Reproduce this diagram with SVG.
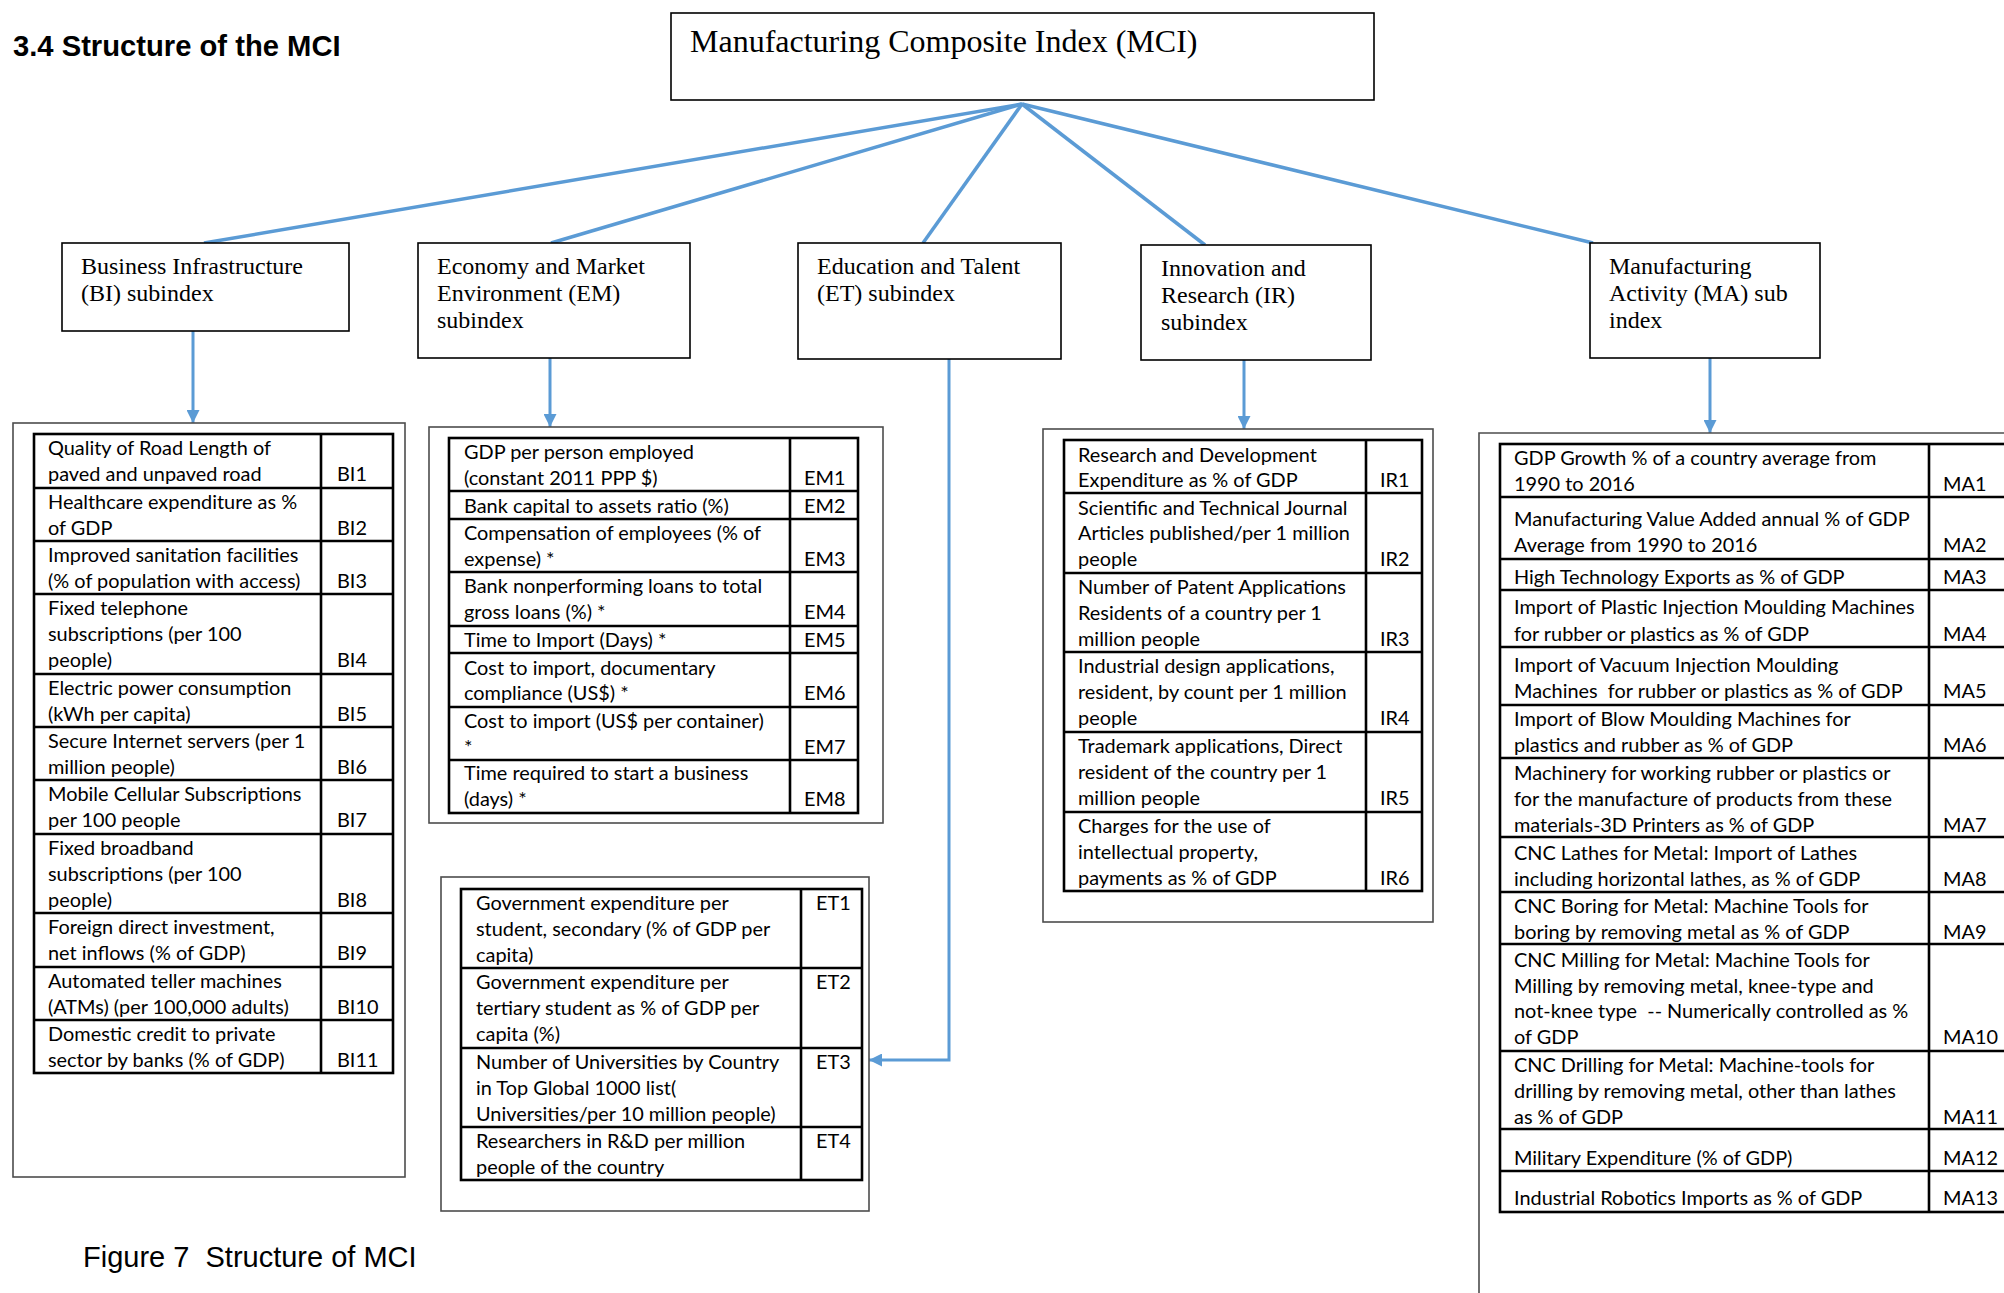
<svg xmlns="http://www.w3.org/2000/svg" width="2004" height="1293" viewBox="0 0 2004 1293">
<defs>
<style>
.bg{fill:#fff}
.hd{font-family:"Liberation Sans",Arial,sans-serif;font-size:29.2px;font-weight:bold;fill:#000}
.cap{font-family:"Liberation Sans",Arial,sans-serif;font-size:29px;fill:#000}
.mci{font-family:"Liberation Serif","Times New Roman",serif;font-size:32px;fill:#000}
.sub{font-family:"Liberation Serif","Times New Roman",serif;font-size:24px;fill:#000}
.box{fill:#fff;stroke:#000;stroke-width:1.6}
.outer{fill:none;stroke:#4d4d4d;stroke-width:1.6}
.tbl{fill:none;stroke:#000;stroke-width:2.6}
.t{font-family:Lato,"Liberation Sans",sans-serif;font-size:19.9px;fill:#000}
.con{fill:none;stroke:#5B9BD5;stroke-width:3.5}
.arr{fill:none;stroke:#5B9BD5;stroke-width:3}
</style>
<marker id="ah" viewBox="0 0 10 10" refX="10" refY="5" markerWidth="13" markerHeight="13" markerUnits="userSpaceOnUse" orient="auto"><path d="M0,0 L10,5 L0,10 z" fill="#5B9BD5"/></marker>
</defs>
<rect class="bg" x="0" y="0" width="2004" height="1293"/>
<text class="hd" x="13" y="56">3.4 Structure of the MCI</text>
<text class="cap" x="83" y="1267" xml:space="preserve">Figure 7  Structure of MCI</text>

<g id="connectors">
<path class="con" d="M1022,104 L204,243"/>
<path class="con" d="M1022,104 L551,243"/>
<path class="con" d="M1022,104 L923,243"/>
<path class="con" d="M1022,104 L1205,245"/>
<path class="con" d="M1022,104 L1593,243"/>
<path class="arr" d="M193,331 V423" marker-end="url(#ah)"/>
<path class="arr" d="M550,358 V427" marker-end="url(#ah)"/>
<path class="arr" d="M949,359 V1060 H869" marker-end="url(#ah)"/>
<path class="arr" d="M1244,360 V429" marker-end="url(#ah)"/>
<path class="arr" d="M1710,358 V433" marker-end="url(#ah)"/>
</g>

<g id="mci">
<rect class="box" x="671" y="13" width="703" height="87"/>
<text class="mci" x="690" y="52">Manufacturing Composite Index (MCI)</text>
</g>

<g id="bi-subindex">
<rect class="box" x="62" y="243" width="287" height="88"/>
<text class="sub" x="81" y="274">Business Infrastructure</text>
<text class="sub" x="81" y="301">(BI) subindex</text>
</g>
<g id="em-subindex">
<rect class="box" x="418" y="243" width="272" height="115"/>
<text class="sub" x="437" y="274">Economy and Market</text>
<text class="sub" x="437" y="301">Environment (EM)</text>
<text class="sub" x="437" y="328">subindex</text>
</g>
<g id="et-subindex">
<rect class="box" x="798" y="243" width="263" height="116"/>
<text class="sub" x="817" y="274">Education and Talent</text>
<text class="sub" x="817" y="301">(ET) subindex</text>
</g>
<g id="ir-subindex">
<rect class="box" x="1141" y="245" width="230" height="115"/>
<text class="sub" x="1161" y="276">Innovation and</text>
<text class="sub" x="1161" y="303">Research (IR)</text>
<text class="sub" x="1161" y="330">subindex</text>
</g>
<g id="ma-subindex">
<rect class="box" x="1590" y="243" width="230" height="115"/>
<text class="sub" x="1609" y="274">Manufacturing</text>
<text class="sub" x="1609" y="301">Activity (MA) sub</text>
<text class="sub" x="1609" y="328">index</text>
</g>

<g id="bi-table">
<rect class="outer" x="13" y="423" width="392" height="754"/>
<rect class="tbl" x="34" y="434" width="359" height="639"/>
<path class="tbl" d="M321,434 V1073 M34,488 H393 M34,541 H393 M34,594 H393 M34,674 H393 M34,727 H393 M34,780 H393 M34,834 H393 M34,913 H393 M34,967 H393 M34,1020 H393"/>
<text class="t" x="48" y="455">Quality of Road Length of</text>
<text class="t" x="48" y="481">paved and unpaved road</text>
<text class="t" x="337" y="481">BI1</text>
<text class="t" x="48" y="509">Healthcare expenditure as %</text>
<text class="t" x="48" y="535">of GDP</text>
<text class="t" x="337" y="535">BI2</text>
<text class="t" x="48" y="562">Improved sanitation facilities</text>
<text class="t" x="48" y="588">(% of population with access)</text>
<text class="t" x="337" y="588">BI3</text>
<text class="t" x="48" y="615">Fixed telephone</text>
<text class="t" x="48" y="641">subscriptions (per 100</text>
<text class="t" x="48" y="667">people)</text>
<text class="t" x="337" y="667">BI4</text>
<text class="t" x="48" y="695">Electric power consumption</text>
<text class="t" x="48" y="721">(kWh per capita)</text>
<text class="t" x="337" y="721">BI5</text>
<text class="t" x="48" y="748">Secure Internet servers (per 1</text>
<text class="t" x="48" y="774">million people)</text>
<text class="t" x="337" y="774">BI6</text>
<text class="t" x="48" y="801">Mobile Cellular Subscriptions</text>
<text class="t" x="48" y="827">per 100 people</text>
<text class="t" x="337" y="827">BI7</text>
<text class="t" x="48" y="855">Fixed broadband</text>
<text class="t" x="48" y="881">subscriptions (per 100</text>
<text class="t" x="48" y="907">people)</text>
<text class="t" x="337" y="907">BI8</text>
<text class="t" x="48" y="934">Foreign direct investment,</text>
<text class="t" x="48" y="960">net inflows (% of GDP)</text>
<text class="t" x="337" y="960">BI9</text>
<text class="t" x="48" y="988">Automated teller machines</text>
<text class="t" x="48" y="1014">(ATMs) (per 100,000 adults)</text>
<text class="t" x="337" y="1014">BI10</text>
<text class="t" x="48" y="1041">Domestic credit to private</text>
<text class="t" x="48" y="1067">sector by banks (% of GDP)</text>
<text class="t" x="337" y="1067">BI11</text>
</g>

<g id="em-table">
<rect class="outer" x="429" y="427" width="454" height="396"/>
<rect class="tbl" x="449" y="438" width="409" height="375"/>
<path class="tbl" d="M790,438 V813 M449,491 H858 M449,519 H858 M449,572 H858 M449,626 H858 M449,653 H858 M449,707 H858 M449,760 H858"/>
<text class="t" x="464" y="459">GDP per person employed</text>
<text class="t" x="464" y="485">(constant 2011 PPP $)</text>
<text class="t" x="804" y="485">EM1</text>
<text class="t" x="464" y="513">Bank capital to assets ratio (%)</text>
<text class="t" x="804" y="513">EM2</text>
<text class="t" x="464" y="540">Compensation of employees (% of</text>
<text class="t" x="464" y="566">expense) *</text>
<text class="t" x="804" y="566">EM3</text>
<text class="t" x="464" y="593">Bank nonperforming loans to total</text>
<text class="t" x="464" y="619">gross loans (%) *</text>
<text class="t" x="804" y="619">EM4</text>
<text class="t" x="464" y="647">Time to Import (Days) *</text>
<text class="t" x="804" y="647">EM5</text>
<text class="t" x="464" y="675">Cost to import, documentary</text>
<text class="t" x="464" y="700">compliance (US$) *</text>
<text class="t" x="804" y="700">EM6</text>
<text class="t" x="464" y="728">Cost to import (US$ per container)</text>
<text class="t" x="464" y="754">*</text>
<text class="t" x="804" y="754">EM7</text>
<text class="t" x="464" y="780">Time required to start a business</text>
<text class="t" x="464" y="806">(days) *</text>
<text class="t" x="804" y="806">EM8</text>
</g>

<g id="et-table">
<rect class="outer" x="441" y="877" width="428" height="334"/>
<rect class="tbl" x="461" y="889" width="401" height="291"/>
<path class="tbl" d="M801,889 V1180 M461,968 H862 M461,1048 H862 M461,1127 H862"/>
<text class="t" x="476" y="910">Government expenditure per</text>
<text class="t" x="476" y="936">student, secondary (% of GDP per</text>
<text class="t" x="476" y="962">capita)</text>
<text class="t" x="816" y="910">ET1</text>
<text class="t" x="476" y="989">Government expenditure per</text>
<text class="t" x="476" y="1015">tertiary student as % of GDP per</text>
<text class="t" x="476" y="1041">capita (%)</text>
<text class="t" x="816" y="989">ET2</text>
<text class="t" x="476" y="1069">Number of Universities by Country</text>
<text class="t" x="476" y="1095">in Top Global 1000 list(</text>
<text class="t" x="476" y="1121">Universities/per 10 million people)</text>
<text class="t" x="816" y="1069">ET3</text>
<text class="t" x="476" y="1148">Researchers in R&amp;D per million</text>
<text class="t" x="476" y="1174">people of the country</text>
<text class="t" x="816" y="1148">ET4</text>
</g>

<g id="ir-table">
<rect class="outer" x="1043" y="429" width="390" height="493"/>
<rect class="tbl" x="1064" y="440" width="358" height="451"/>
<path class="tbl" d="M1366,440 V891 M1064,493 H1422 M1064,573 H1422 M1064,652 H1422 M1064,732 H1422 M1064,812 H1422"/>
<text class="t" x="1078" y="462">Research and Development</text>
<text class="t" x="1078" y="487">Expenditure as % of GDP</text>
<text class="t" x="1380" y="487">IR1</text>
<text class="t" x="1078" y="515">Scientific and Technical Journal</text>
<text class="t" x="1078" y="540">Articles published/per 1 million</text>
<text class="t" x="1078" y="566">people</text>
<text class="t" x="1380" y="566">IR2</text>
<text class="t" x="1078" y="594">Number of Patent Applications</text>
<text class="t" x="1078" y="620">Residents of a country per 1</text>
<text class="t" x="1078" y="646">million people</text>
<text class="t" x="1380" y="646">IR3</text>
<text class="t" x="1078" y="673">Industrial design applications,</text>
<text class="t" x="1078" y="699">resident, by count per 1 million</text>
<text class="t" x="1078" y="725">people</text>
<text class="t" x="1380" y="725">IR4</text>
<text class="t" x="1078" y="753">Trademark applications, Direct</text>
<text class="t" x="1078" y="779">resident of the country per 1</text>
<text class="t" x="1078" y="805">million people</text>
<text class="t" x="1380" y="805">IR5</text>
<text class="t" x="1078" y="833">Charges for the use of</text>
<text class="t" x="1078" y="859">intellectual property,</text>
<text class="t" x="1078" y="885">payments as % of GDP</text>
<text class="t" x="1380" y="885">IR6</text>
</g>

<g id="ma-table">
<path class="outer" d="M1479,1300 V433 H2010"/>
<rect class="tbl" x="1500" y="444" width="520" height="768"/>
<path class="tbl" d="M1929,444 V1212 M1500,497 H2010 M1500,559 H2010 M1500,590 H2010 M1500,647 H2010 M1500,705 H2010 M1500,758 H2010 M1500,837 H2010 M1500,892 H2010 M1500,944 H2010 M1500,1051 H2010 M1500,1129 H2010 M1500,1171 H2010"/>
<text class="t" x="1514" y="465">GDP Growth % of a country average from</text>
<text class="t" x="1514" y="491">1990 to 2016</text>
<text class="t" x="1943" y="491">MA1</text>
<text class="t" x="1514" y="526">Manufacturing Value Added annual % of GDP</text>
<text class="t" x="1514" y="552">Average from 1990 to 2016</text>
<text class="t" x="1943" y="552">MA2</text>
<text class="t" x="1514" y="584">High Technology Exports as % of GDP</text>
<text class="t" x="1943" y="584">MA3</text>
<text class="t" x="1514" y="614">Import of Plastic Injection Moulding Machines</text>
<text class="t" x="1514" y="641">for rubber or plastics as % of GDP</text>
<text class="t" x="1943" y="641">MA4</text>
<text class="t" x="1514" y="672">Import of Vacuum Injection Moulding</text>
<text class="t" x="1514" y="698" xml:space="preserve">Machines  for rubber or plastics as % of GDP</text>
<text class="t" x="1943" y="698">MA5</text>
<text class="t" x="1514" y="726">Import of Blow Moulding Machines for</text>
<text class="t" x="1514" y="752">plastics and rubber as % of GDP</text>
<text class="t" x="1943" y="752">MA6</text>
<text class="t" x="1514" y="780">Machinery for working rubber or plastics or</text>
<text class="t" x="1514" y="806">for the manufacture of products from these</text>
<text class="t" x="1514" y="832">materials-3D Printers as % of GDP</text>
<text class="t" x="1943" y="832">MA7</text>
<text class="t" x="1514" y="860">CNC Lathes for Metal: Import of Lathes</text>
<text class="t" x="1514" y="886">including horizontal lathes, as % of GDP</text>
<text class="t" x="1943" y="886">MA8</text>
<text class="t" x="1514" y="913">CNC Boring for Metal: Machine Tools for</text>
<text class="t" x="1514" y="939">boring by removing metal as % of GDP</text>
<text class="t" x="1943" y="939">MA9</text>
<text class="t" x="1514" y="967">CNC Milling for Metal: Machine Tools for</text>
<text class="t" x="1514" y="993">Milling by removing metal, knee-type and</text>
<text class="t" x="1514" y="1018" xml:space="preserve">not-knee type  -- Numerically controlled as %</text>
<text class="t" x="1514" y="1044">of GDP</text>
<text class="t" x="1943" y="1044">MA10</text>
<text class="t" x="1514" y="1072">CNC Drilling for Metal: Machine-tools for</text>
<text class="t" x="1514" y="1098">drilling by removing metal, other than lathes</text>
<text class="t" x="1514" y="1124">as % of GDP</text>
<text class="t" x="1943" y="1124">MA11</text>
<text class="t" x="1514" y="1165">Military Expenditure (% of GDP)</text>
<text class="t" x="1943" y="1165">MA12</text>
<text class="t" x="1514" y="1205">Industrial Robotics Imports as % of GDP</text>
<text class="t" x="1943" y="1205">MA13</text>
</g>
</svg>
